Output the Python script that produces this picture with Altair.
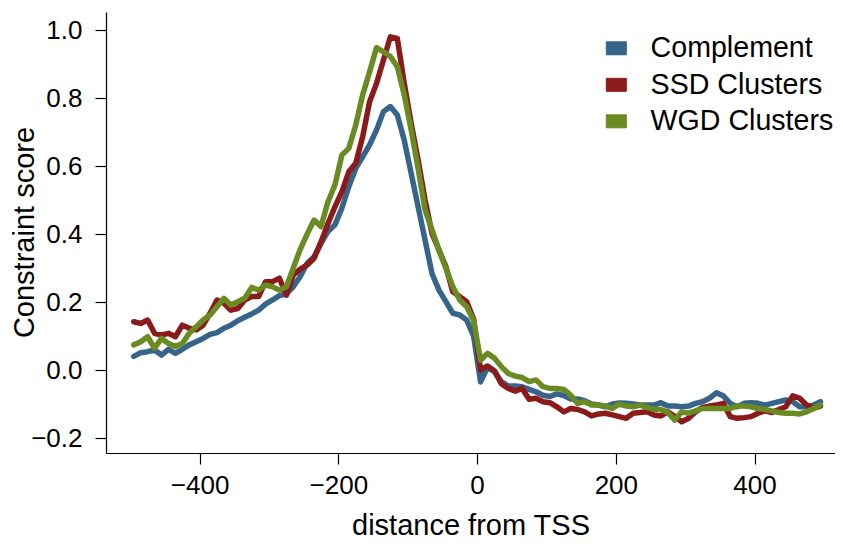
import altair as alt
import pandas as pd

distance = list(range(-495, 500, 10))

complement = [
    0.040, 0.051, 0.054, 0.059, 0.044, 0.061, 0.049, 0.061, 0.074, 0.083,
    0.093, 0.105, 0.110, 0.123, 0.132, 0.145, 0.155, 0.165, 0.176, 0.194,
    0.206, 0.219, 0.224, 0.245, 0.275, 0.314, 0.333, 0.373, 0.407, 0.427,
    0.476, 0.539, 0.593, 0.627, 0.662, 0.706, 0.760, 0.775, 0.750, 0.676,
    0.578, 0.480, 0.382, 0.284, 0.235, 0.201, 0.167, 0.162, 0.147, 0.100,
    -0.035, 0.008, -0.005, -0.034, -0.047, -0.047, -0.049, -0.057, -0.064, -0.074,
    -0.078, -0.070, -0.075, -0.085, -0.085, -0.090, -0.100, -0.103, -0.108, -0.100,
    -0.097, -0.098, -0.100, -0.103, -0.103, -0.103, -0.096, -0.106, -0.106, -0.108,
    -0.106, -0.098, -0.093, -0.083, -0.067, -0.076, -0.098, -0.108, -0.098, -0.096,
    -0.098, -0.103, -0.098, -0.093, -0.088, -0.093, -0.108, -0.108, -0.103, -0.093,
]

ssd = [
    0.142, 0.137, 0.147, 0.108, 0.103, 0.108, 0.098, 0.132, 0.123, 0.118,
    0.132, 0.167, 0.206, 0.196, 0.176, 0.181, 0.206, 0.216, 0.216, 0.260,
    0.260, 0.270, 0.220, 0.279, 0.297, 0.309, 0.329, 0.377, 0.431, 0.480,
    0.524, 0.583, 0.608, 0.686, 0.789, 0.843, 0.912, 0.980, 0.975, 0.843,
    0.725, 0.618, 0.500, 0.402, 0.353, 0.304, 0.230, 0.216, 0.201, 0.150,
    0.000, 0.012, -0.002, -0.040, -0.054, -0.062, -0.054, -0.086, -0.083, -0.093,
    -0.096, -0.108, -0.123, -0.113, -0.116, -0.123, -0.135, -0.129, -0.127, -0.132,
    -0.137, -0.142, -0.127, -0.125, -0.123, -0.132, -0.135, -0.123, -0.137, -0.152,
    -0.142, -0.123, -0.110, -0.106, -0.103, -0.098, -0.137, -0.142, -0.140, -0.137,
    -0.127, -0.120, -0.125, -0.116, -0.108, -0.076, -0.083, -0.103, -0.113, -0.106,
]

wgd = [
    0.074, 0.083, 0.098, 0.064, 0.093, 0.078, 0.069, 0.078, 0.108, 0.127,
    0.147, 0.162, 0.186, 0.211, 0.191, 0.201, 0.211, 0.243, 0.235, 0.250,
    0.245, 0.235, 0.245, 0.300, 0.355, 0.400, 0.441, 0.422, 0.495, 0.544,
    0.632, 0.652, 0.720, 0.809, 0.877, 0.948, 0.936, 0.922, 0.892, 0.809,
    0.706, 0.593, 0.471, 0.412, 0.353, 0.299, 0.245, 0.206, 0.186, 0.145,
    0.029, 0.049, 0.035, 0.010, -0.010, -0.018, -0.022, -0.034, -0.029, -0.049,
    -0.054, -0.054, -0.057, -0.074, -0.098, -0.093, -0.103, -0.103, -0.106, -0.113,
    -0.100, -0.106, -0.108, -0.103, -0.110, -0.116, -0.116, -0.125, -0.147, -0.123,
    -0.127, -0.120, -0.113, -0.113, -0.113, -0.113, -0.113, -0.106, -0.106, -0.108,
    -0.113, -0.116, -0.120, -0.125, -0.127, -0.127, -0.129, -0.123, -0.113, -0.103,
]

series_names = ["Complement", "SSD Clusters", "WGD Clusters"]
series_colors = ["#36648B", "#8B1A1A", "#698B22"]
x_ticks = [-400, -200, 0, 200, 400]
y_ticks = [-0.2, 0.0, 0.2, 0.4, 0.6, 0.8, 1.0]

rows = []
for name, vals in zip(series_names, [complement, ssd, wgd]):
    for d, v in zip(distance, vals):
        rows.append({"distance": d, "score": v, "series": name})
df = pd.DataFrame(rows)

FONT = "Liberation Sans"
BOX = "M-1,-0.65H1V0.65H-1Z"

x_enc = alt.X(
    "distance:Q",
    scale=alt.Scale(domain=[-535, 516], nice=False, zero=False),
    axis=alt.Axis(
        values=x_ticks, format="d", title="distance from TSS",
        tickSize=11, labelPadding=8, labelFontSize=26, titleFontSize=29,
        titleBaseline="alphabetic", titleY=81, labelFlush=False,
    ),
)
y_enc = alt.Y(
    "score:Q",
    scale=alt.Scale(domain=[-0.244, 1.053], nice=False, zero=False),
    axis=alt.Axis(
        values=y_ticks, format=".1f", title="Constraint score",
        tickSize=11, labelPadding=13, labelFontSize=26, titleFontSize=29,
        titleBaseline="alphabetic", titleX=-73, titleY=220, titleAngle=270,
        titleAlign="center", labelFlush=False,
    ),
)

legend_layer = (
    alt.Chart(df)
    .mark_point(filled=True, shape=BOX, size=400, opacity=0)
    .encode(
        x=x_enc,
        y=y_enc,
        stroke=alt.value("black"),
        strokeWidth=alt.value(1),
        fill=alt.Fill(
            "series:N",
            scale=alt.Scale(domain=series_names, range=series_colors),
            legend=alt.Legend(
                title=None, orient="none", legendX=496, legendY=22,
                labelFont=FONT, labelFontSize=28.6, labelColor="black",
                labelLimit=400,
                symbolType=BOX, symbolSize=400,
                symbolStrokeColor="black", symbolStrokeWidth=1, symbolOpacity=1,
                labelOffset=20, rowPadding=7.5, padding=0,
            ),
        ),
    )
)

lines = (
    alt.Chart(df)
    .mark_line(strokeWidth=5.5, strokeCap="round", strokeJoin="round")
    .encode(
        x=x_enc,
        y=y_enc,
        color=alt.Color(
            "series:N",
            scale=alt.Scale(domain=series_names, range=series_colors),
            legend=None,
        ),
    )
)

chart = (
    alt.layer(legend_layer, lines)
    .properties(
        width=729, height=441,
        background="white",
        autosize=alt.AutoSizeParams(type="none"),
        padding={"left": 98, "top": 4, "right": 0, "bottom": 87},
    )
    .configure_view(stroke=None)
    .configure_axis(
        grid=False, domainColor="black", tickColor="black", labelColor="black",
        titleColor="black", labelFont=FONT, titleFont=FONT, titleFontWeight="normal",
        domainWidth=1.2, tickWidth=1.2,
    )
)

chart.save("out.html", embed_options={"renderer": "svg", "actions": False})
